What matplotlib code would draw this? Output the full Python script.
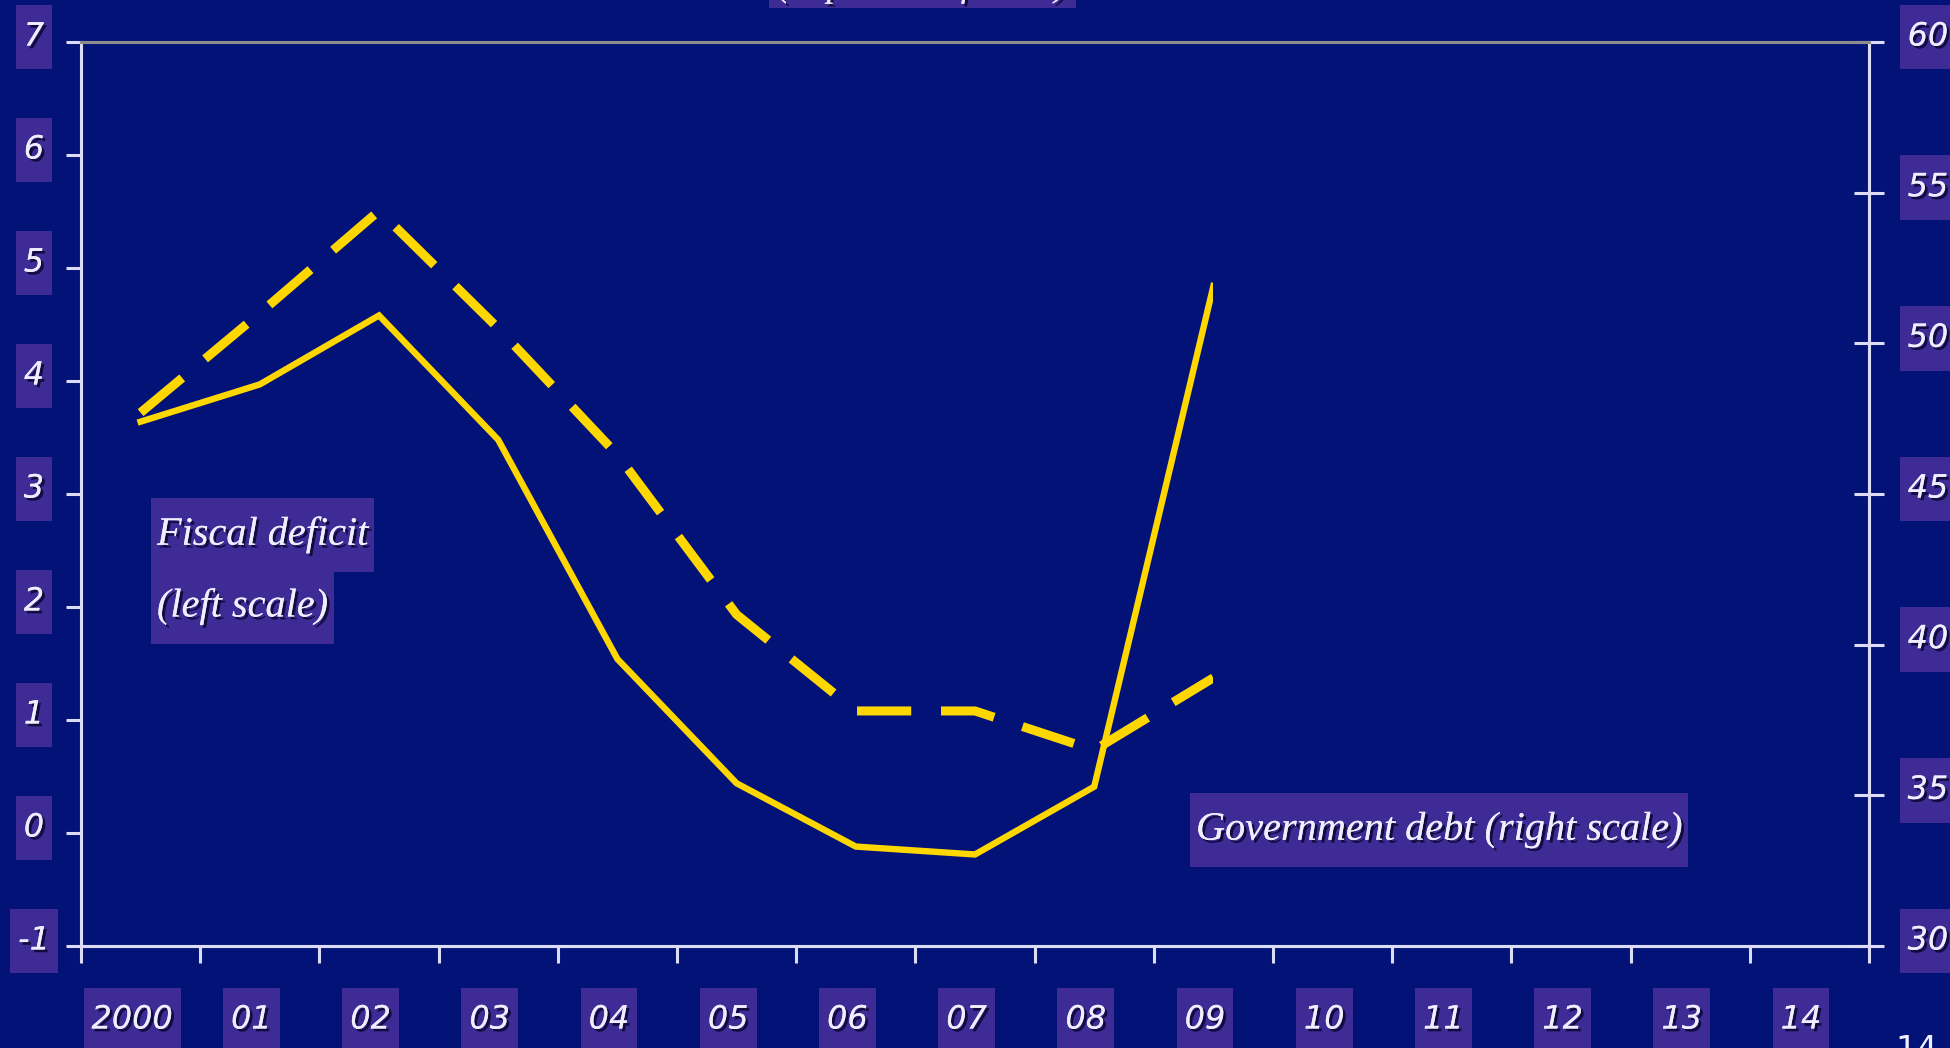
import matplotlib
matplotlib.use("Agg")
import matplotlib.pyplot as plt
import matplotlib.patheffects as pe
from matplotlib import transforms
from matplotlib.patches import Rectangle
from matplotlib.path import Path

# years shown on the x axis (only 2000-09 carry data)
years = ["2000", "01", "02", "03", "04", "05", "06", "07", "08", "09",
         "10", "11", "12", "13", "14"]
# fiscal deficit, % of GDP (left scale)
deficit = [3.64, 3.97, 4.58, 3.48, 1.54, 0.44, -0.12, -0.19, 0.41, 4.84]
# government debt, % of GDP (right scale)
debt = [47.7, 51.0, 54.4, 50.5, 46.3, 41.0, 37.8, 37.8, 36.5, 38.9]

left_ticks = [-1, 0, 1, 2, 3, 4, 5, 6, 7]
right_ticks = [30, 35, 40, 45, 50, 55, 60]

BG = "#021277"
BOX = "#3F2B96"
TXT = "#EEEEFF"
AXC = "#DCDCF6"
GOLD = "#FFD700"

shadow = [pe.withSimplePatchShadow(offset=(2, -2), shadow_rgbFace="#05052a", alpha=0.8),
          pe.Normal()]
num_font = dict(family="DejaVu Sans", style="oblique", size=23, color=TXT)
lab_font = dict(family="Liberation Serif", style="italic", size=29, color=TXT)


def padbox(px, py):
    # rectangle with separate horizontal / vertical padding (in font-size units)
    def style(x0, y0, w, h, mutation_size):
        dx, dy = px * mutation_size, py * mutation_size
        return Path([(x0 - dx, y0 - dy), (x0 + w + dx, y0 - dy),
                     (x0 + w + dx, y0 + h + dy), (x0 - dx, y0 + h + dy),
                     (x0 - dx, y0 - dy)], closed=True)
    return style


fig = plt.figure(figsize=(19.5, 10.48), dpi=100)
fig.patch.set_facecolor(BG)
W, H = 1950, 1048
ax = fig.add_axes([81 / W, 1 - 946 / H, (1869 - 81) / W, (946 - 42) / H])
ax.set_facecolor(BG)
ax2 = ax.twinx()

n = len(years)
x = list(range(len(deficit)))
ax.set_xlim(-0.5, n - 0.5)
ax.set_ylim(-1, 7)
ax2.set_ylim(30, 60)

# clip both series at the 2009 centre
clip1 = Rectangle((-0.5, -1), 9.5, 8, transform=ax.transData)
clip2 = Rectangle((-0.5, 30), 9.5, 30, transform=ax2.transData)

l1, = ax.plot(x, deficit, color=GOLD, lw=4.6, solid_joinstyle="miter")
l1.set_clip_path(clip1)
l2, = ax2.plot(x, debt, color=GOLD, lw=6.5, linestyle=(0, (6, 3.3)))
l2.set_clip_path(clip2)

# spines and ticks
for a in (ax, ax2):
    for s in a.spines.values():
        s.set_color(AXC)
        s.set_linewidth(2.2)
    a.spines["top"].set_color("#8C8C8C")
ax.set_xticks([i - 0.5 for i in range(n + 1)])
ax.set_xticklabels([])
ax.set_yticks(left_ticks)
ax.set_yticklabels([])
ax.tick_params(axis="x", direction="out", length=12, width=2.2, color=AXC)
ax.tick_params(axis="y", direction="out", length=11, width=2.2, color=AXC)
ax2.set_yticks(right_ticks)
ax2.set_yticklabels([])
ax2.tick_params(axis="y", direction="inout", length=21, width=2.2, color=AXC)

box = dict(boxstyle=padbox(0.25, 0.53), facecolor=BOX, edgecolor="none")

# left scale labels
tl = transforms.offset_copy(transforms.blended_transform_factory(fig.transFigure, ax.transData),
                            fig=fig, y=5, units="dots")
for v in left_ticks:
    ax.text(34 / W, v, str(v), transform=tl, ha="center", va="center",
            bbox=box, path_effects=shadow, clip_on=False, **num_font)

# right scale labels
tr = transforms.offset_copy(transforms.blended_transform_factory(fig.transFigure, ax2.transData),
                            fig=fig, y=5, units="dots")
for v in right_ticks:
    ax2.text(1928 / W, v, str(v), transform=tr, ha="center", va="center",
             bbox=box, path_effects=shadow, clip_on=False, **num_font)

# year labels
tx = transforms.blended_transform_factory(ax.transData, fig.transFigure)
for i, yr in enumerate(years):
    ax.text(i - 0.07, 1 - 1020 / H, yr, transform=tx, ha="center", va="center",
            bbox=box, path_effects=shadow, clip_on=False, **num_font)

# series labels
lbox = dict(boxstyle=padbox(0.15, 0.45), facecolor=BOX, edgecolor="none")
fig.text(157 / W, 1 - 535 / H, "Fiscal deficit", ha="left", va="center",
         bbox=lbox, path_effects=shadow, **lab_font)
fig.text(157 / W, 1 - 607 / H, "(left scale)", ha="left", va="center",
         bbox=lbox, path_effects=shadow, **lab_font)
fig.text(1196 / W, 1 - 830 / H, "Government debt (right scale)", ha="left", va="center",
         bbox=lbox, path_effects=shadow, **lab_font)

# title box running off the top edge
fig.patches.append(Rectangle((769 / W, 1 - 8 / H), 307 / W, 0.05, transform=fig.transFigure,
                             facecolor=BOX, edgecolor="none"))
fig.text(922 / W, 1 + 4 / H, "(in percent of GDP)", ha="center", va="baseline",
         path_effects=shadow, family="Liberation Serif", style="italic", size=26, color=TXT)

# page number
fig.text(1917 / W, 1 - 1034 / H, "14", ha="center", va="top", color=TXT,
         family="DejaVu Sans", size=24)

fig.savefig("out.png", dpi=100, facecolor=BG)
